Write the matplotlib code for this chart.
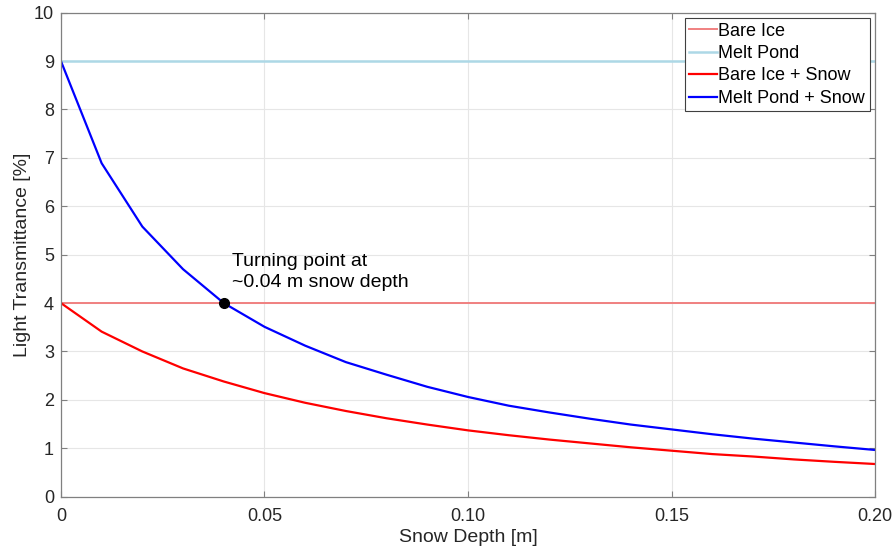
import matplotlib

matplotlib.use("Agg")
import matplotlib.pyplot as plt
import numpy as np

# snow depth [m] and transmittance [%]
snow_depth = [0.00, 0.01, 0.02, 0.03, 0.04, 0.05, 0.06, 0.07, 0.08, 0.09, 0.10,
              0.11, 0.12, 0.13, 0.14, 0.15, 0.16, 0.17, 0.18, 0.19, 0.20]
melt_pond_snow = [9.00, 6.89, 5.58, 4.70, 4.00, 3.51, 3.12, 2.78, 2.52, 2.27, 2.06,
                  1.88, 1.74, 1.61, 1.49, 1.39, 1.29, 1.20, 1.12, 1.04, 0.965]
bare_ice_snow = [4.00, 3.41, 3.00, 2.65, 2.38, 2.14, 1.94, 1.77, 1.62, 1.49, 1.37,
                 1.27, 1.18, 1.10, 1.02, 0.95, 0.88, 0.83, 0.77, 0.72, 0.675]
bare_ice_level = 4.0
melt_pond_level = 9.0
turning_point = (0.04, 4.0)

x_ticks = [0, 0.05, 0.10, 0.15, 0.20]
x_ticklabels = ["0", "0.05", "0.10", "0.15", "0.20"]
y_ticks = list(range(0, 11))

plt.rcParams.update({
    "font.family": ["Liberation Sans", "DejaVu Sans"],
    "font.size": 13,
})

fig = plt.figure(figsize=(8.96, 5.56), dpi=100)
ax = fig.add_axes([0.068, 0.1067, 0.9086, 0.8705])

ax.axhline(bare_ice_level, color="#f08080", linewidth=1.4, label="Bare Ice")
ax.axhline(melt_pond_level, color="#add8e6", linewidth=1.8, label="Melt Pond")
ax.plot(snow_depth, bare_ice_snow, color="#ff0000", linewidth=1.6, label="Bare Ice + Snow")
ax.plot(snow_depth, melt_pond_snow, color="#0000ff", linewidth=1.6, label="Melt Pond + Snow")

ax.plot(*turning_point, "o", color="black", markersize=7, zorder=5)
ax.annotate("Turning point at\n~0.04 m snow depth", xy=turning_point,
            xytext=(6, 9), textcoords="offset points", fontsize=14,
            ha="left", va="bottom", color="black", linespacing=1.3)

ax.set_xlim(0, 0.2)
ax.set_ylim(0, 10)
ax.set_xticks(x_ticks)
ax.set_xticklabels(x_ticklabels)
ax.set_yticks(y_ticks)
ax.grid(True, color="#e6e6e6", linewidth=0.8)
ax.set_axisbelow(True)
ax.tick_params(direction="in", top=True, right=True, length=4, color="#808080",
               labelcolor="#262626", labelsize=13)
ax.tick_params(axis="x", pad=8)
ax.tick_params(axis="y", pad=5)
for sp in ax.spines.values():
    sp.set_color("#808080")
    sp.set_linewidth(0.9)

ax.set_xlabel("Snow Depth [m]", fontsize=14, color="#262626", labelpad=3)
ax.set_ylabel("Light Transmittance [%]", fontsize=14, color="#262626", labelpad=2)

leg = ax.legend(loc="upper right", fontsize=13, handlelength=1.5, handletextpad=0.1,
                borderpad=0.25, labelspacing=0.3, borderaxespad=0.3,
                fancybox=False, framealpha=1, edgecolor="#404040")
leg.get_frame().set_linewidth(0.8)

fig.savefig("out.png", dpi=100)
plt.close(fig)
